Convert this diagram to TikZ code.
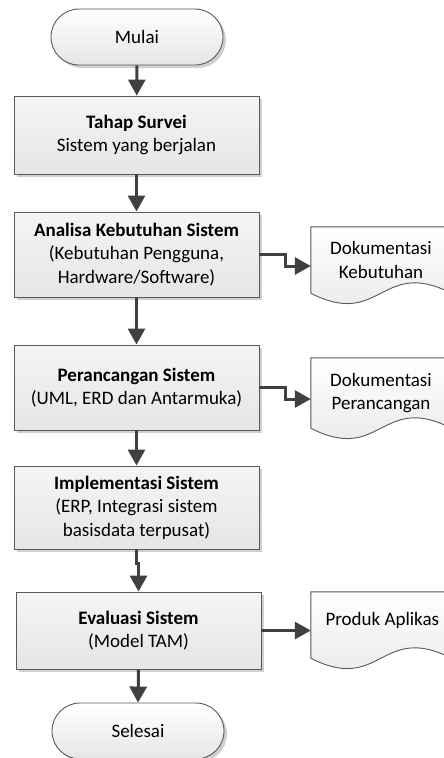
\documentclass[tikz,border=0pt]{standalone}
\usepackage{fontspec}
\setmainfont{Carlito}
\usetikzlibrary{arrows.meta,shadows}
\definecolor{edge}{HTML}{595959}
\definecolor{flow}{HTML}{404040}
\definecolor{shade}{HTML}{C4C4C4}
\tikzset{
  base/.style={draw=edge, line width=0.9pt, align=center,
    font=\fontsize{19}{23.5}\selectfont, inner sep=2pt,
    drop shadow={shadow xshift=3pt, shadow yshift=-3pt, fill=shade, opacity=0.8}},
  procbox/.style={base, rectangle, minimum width=245pt,
    top color=white!96!black, bottom color=white!90!black},
  termbox/.style={base, rounded rectangle, minimum width=176pt, minimum height=56pt,
    top color=white, bottom color=white!90!black},
  doctext/.style={align=center, font=\fontsize{19}{23.5}\selectfont,
    minimum width=140pt, inner sep=0pt},
  flowline/.style={draw=flow, line width=3pt,
    -{Triangle[length=16pt,width=17pt]}},
}
\usetikzlibrary{shapes.misc}
% outline of a document symbol around a text node: straight top and sides, wavy bottom
\newcommand\docoutline[1]{%
  \path[fill=shade, opacity=0.8, shift={(3pt,-3pt)}]
    (#1.south west) -- (#1.north west) -- (#1.north east) -- (#1.south east)
    .. controls ([shift={(-70,-36)}]#1.south east) and ([shift={(70,36)}]#1.south west) .. (#1.south west) -- cycle;
  \path[draw=edge, line width=0.9pt, top color=white, bottom color=white!90!black]
    (#1.south west) -- (#1.north west) -- (#1.north east) -- (#1.south east)
    .. controls ([shift={(-70,-36)}]#1.south east) and ([shift={(70,36)}]#1.south west) .. (#1.south west) -- cycle;
}
\begin{document}
\begin{tikzpicture}[x=1pt, y=-1pt]
\useasboundingbox (0,0) rectangle (444,758);
\clip (0,0) rectangle (444,758);

% main process column
\node[termbox] (mulai) at (137,37) {Mulai};
\node[procbox, minimum height=78pt] (survei) at (136.5,135)
  {\textbf{Tahap Survei}\\Sistem yang berjalan};
\node[procbox, minimum height=85pt] (analisa) at (136.5,254.5)
  {\textbf{Analisa Kebutuhan Sistem}\\(Kebutuhan Pengguna,\\Hardware/Software)};
\node[procbox, minimum height=85pt] (rancang) at (136.5,387.5)
  {\textbf{Perancangan Sistem}\\(UML, ERD dan Antarmuka)};
\node[procbox, minimum height=83pt] (implement) at (136.5,507.5)
  {\textbf{Implementasi Sistem}\\(ERP, Integrasi sistem\\basisdata terpusat)};
\node[procbox, minimum height=77pt] (evaluasi) at (138.5,630.5)
  {\textbf{Evaluasi Sistem}\\(Model TAM)};
\node[termbox] (selesai) at (138,731) {Selesai};

% output documents
\node[doctext, minimum height=66pt] (dockeb) at (381,260) {Dokumentasi\\Kebutuhan};
\node[doctext, minimum height=70pt] (docran) at (381,393) {Dokumentasi\\Perancangan};
\node[doctext, minimum height=66pt, text depth=22pt] (docprod) at (381,625) {};
\docoutline{dockeb}
\docoutline{docran}
\docoutline{docprod}
\node[doctext] at (dockeb) {Dokumentasi\\Kebutuhan};
\node[doctext] at (docran) {Dokumentasi\\Perancangan};
\node[font=\fontsize{19}{23.5}\selectfont, anchor=base west] (prodtext) at (322,625) {Produk Aplikas};

% flow connectors
\draw[flowline] (mulai) -- (survei);
\draw[flowline] (survei) -- (analisa);
\draw[flowline] (analisa) -- (rancang);
\draw[flowline] (rancang) -- (implement);
\draw[flowline] (implement.south) -- ++(0,14) -| (evaluasi.north);
\draw[flowline] (evaluasi.south) -- (selesai.north);

\draw[flowline] (analisa.east) -- ++(26,0) |- ([yshift=-6pt]dockeb.west);
\draw[flowline] (rancang.east) -- ++(26,0) |- ([yshift=-6pt]docran.west);
\draw[flowline] (evaluasi.east) -- (docprod.west |- evaluasi.east);
\end{tikzpicture}
\end{document}
